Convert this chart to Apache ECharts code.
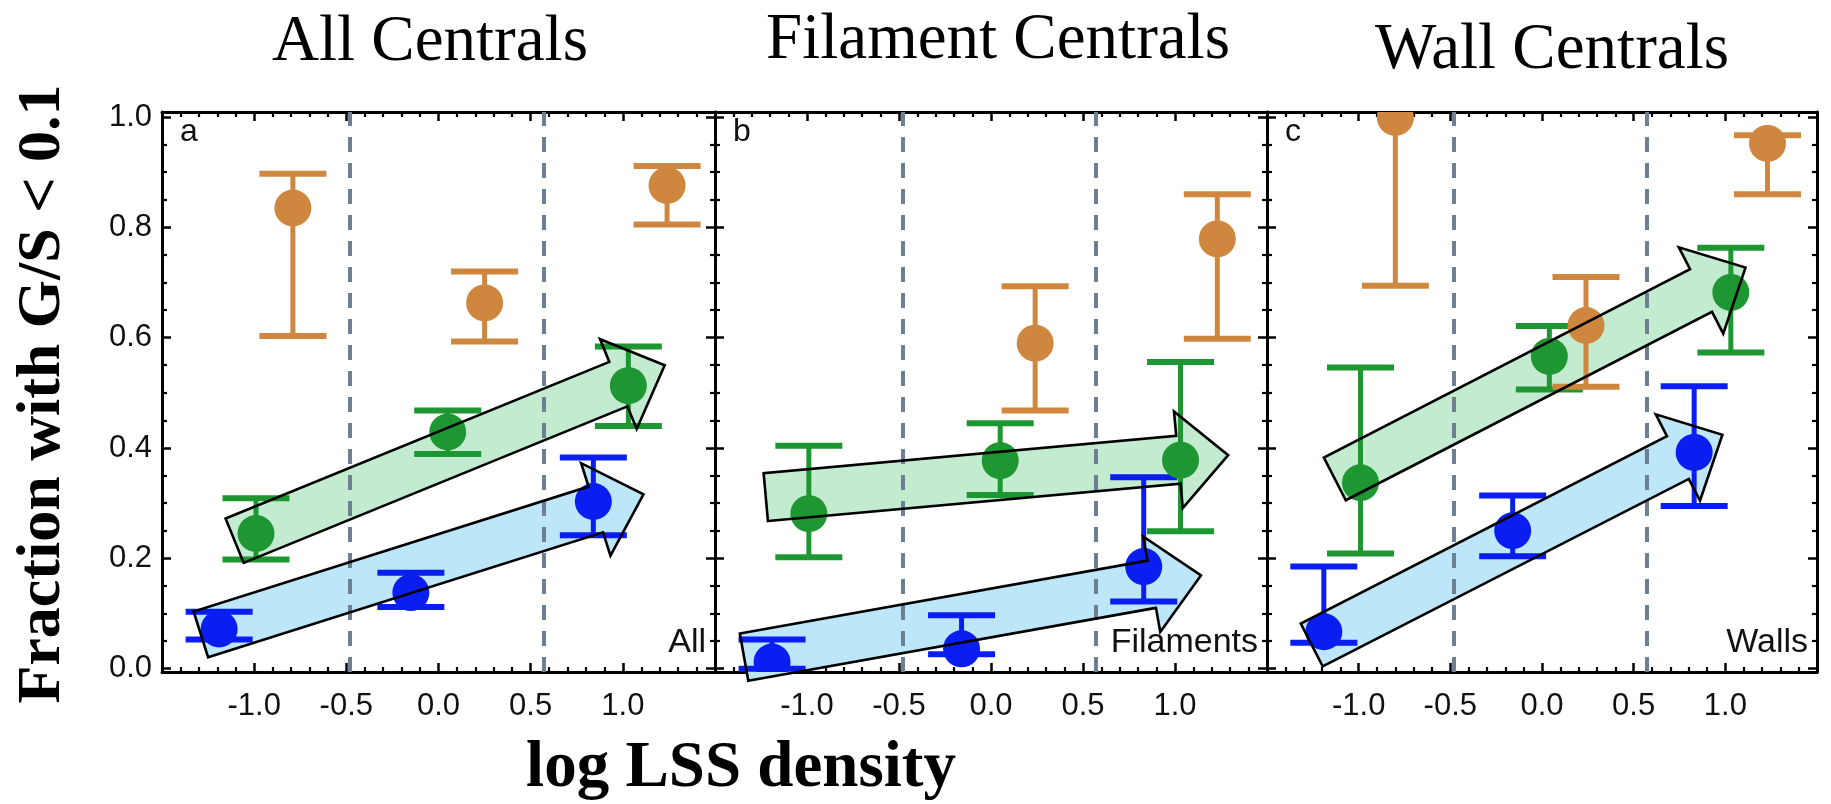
<!DOCTYPE html>
<html>
<head>
<meta charset="utf-8">
<title>Fraction with G/S &lt; 0.1 vs log LSS density</title>
<script src="https://cdn.jsdelivr.net/npm/echarts@6/dist/echarts.min.js"></script>
<style>
  html, body { margin: 0; padding: 0; background: #fff; }
  #chart { width: 1831px; height: 804px; }
</style>
</head>
<body>
<div id="chart"></div>
<script>
// ---- data -------------------------------------------------------------
// panel headings and in-panel tags
const panelTitles = ['All Centrals', 'Filament Centrals', 'Wall Centrals'];
const panelTags = ['a', 'b', 'c'];
const panelSubsets = ['All', 'Filaments', 'Walls'];

// axis ticks
const xTickValues = [-1.0, -0.5, 0.0, 0.5, 1.0];
const yTickValues = [0.0, 0.2, 0.4, 0.6, 0.8, 1.0];
const yMinorTickValues = [0.05, 0.1, 0.15, 0.25, 0.3, 0.35, 0.45, 0.5, 0.55, 0.65, 0.7, 0.75, 0.85, 0.9, 0.95];

// density-bin boundaries (dashed lines)
const binEdges = [-0.48, 0.57];

// points: [log density, fraction, lower bound, upper bound]
const orangeAll = [[-0.79, 0.835, 0.603, 0.897], [0.25, 0.663, 0.593, 0.720], [1.24, 0.876, 0.805, 0.911]];
const greenAll  = [[-0.99, 0.245, 0.198, 0.309], [0.05, 0.429, 0.389, 0.468], [1.03, 0.513, 0.440, 0.584]];
const blueAll   = [[-1.19, 0.072, 0.053, 0.103], [-0.15, 0.138, 0.112, 0.174], [0.84, 0.303, 0.242, 0.383]];

const orangeFil = [[0.24, 0.590, 0.468, 0.693], [1.23, 0.779, 0.598, 0.860]];
const greenFil  = [[-0.99, 0.281, 0.202, 0.404], [0.05, 0.377, 0.315, 0.445], [1.03, 0.378, 0.249, 0.556]];
const blueFil   = [[-1.19, 0.012, 0.000, 0.053], [-0.16, 0.036, 0.026, 0.097], [0.83, 0.185, 0.122, 0.347]];

const orangeWall = [[-0.80, 0.999, 0.694, 1.020], [0.24, 0.622, 0.511, 0.710], [1.23, 0.952, 0.860, 0.967]];
const greenWall  = [[-0.99, 0.337, 0.209, 0.546], [0.04, 0.566, 0.506, 0.621], [1.03, 0.682, 0.573, 0.763]];
const blueWall   = [[-1.19, 0.067, 0.047, 0.185], [-0.16, 0.250, 0.204, 0.314], [0.83, 0.392, 0.295, 0.512]];

// trend arrows: [tail x, tail y, tip x, tip y]
const greenArrows = [[-1.106, 0.232, 1.227, 0.550], [-1.224, 0.311, 1.289, 0.387], [-1.130, 0.344, 1.110, 0.727]];
const blueArrows  = [[-1.289, 0.062, 1.112, 0.316], [-1.342, 0.021, 1.141, 0.169], [-1.256, 0.043, 0.984, 0.424]];

const panels = [
  { orange: orangeAll,  green: greenAll,  blue: blueAll },
  { orange: orangeFil,  green: greenFil,  blue: blueFil },
  { orange: orangeWall, green: greenWall, blue: blueWall }
];

// ---- styling ------------------------------------------------------------
const COLORS = { orange: '#cf873f', green: '#1e9632', blue: '#0a1ef2' };
const ARROW_FILL = { green: '#c3ebcf', blue: '#bde6f8' };
const gridLefts = [162, 715, 1267];
const gridWidths = [553, 552, 550];
const GRID_TOP = 112, GRID_HEIGHT = 560;
const Y_MIN = -0.006, Y_MAX = 1.009;
const SANS = '"Liberation Sans", Arial, Helvetica, sans-serif';
const SERIF = '"Liberation Serif", "Times New Roman", serif';
const TICK_FONT = 31;

const SHAFT_W = 48, HEAD_W = 97, HEAD_L = 50;
const CAP_W = 67, CAP_T = 6, STEM_W = 5;
const MARK_R = 18.5;

const chart = echarts.init(document.getElementById('chart'), null, { renderer: 'canvas' });

const grids = [], xAxes = [], yAxes = [], series = [];

function xAxis(i, pos, labels) {
  return {
    type: 'value', gridIndex: i, position: pos,
    min: -1.5, max: 1.5, interval: 0.5,
    axisLine: { show: true, onZero: false, lineStyle: { color: '#000', width: 3 } },
    axisTick: { show: true, inside: true, length: 9, lineStyle: { color: '#000', width: 2.5 } },
    minorTick: { show: true, splitNumber: 5, length: 5, lineStyle: { color: '#000', width: 2.2 } },
    axisLabel: {
      show: labels, margin: 19, fontSize: TICK_FONT, fontFamily: SANS, color: '#111',
      showMinLabel: false, showMaxLabel: false,
      formatter: v => (xTickValues.some(t => Math.abs(t - v) < 1e-9) ? v.toFixed(1) : '')
    },
    splitLine: { show: false }, minorSplitLine: { show: false }
  };
}

function yAxis(i, pos, values, len, withLine, labels) {
  return {
    type: 'value', gridIndex: i, position: pos, min: Y_MIN, max: Y_MAX,
    axisLine: { show: withLine, onZero: false, lineStyle: { color: '#000', width: 3 } },
    axisTick: { show: true, inside: true, length: len, customValues: values,
                lineStyle: { color: '#000', width: len > 6 ? 2.5 : 2.2 } },
    axisLabel: labels
      ? { show: true, customValues: yTickValues, margin: 10, fontSize: TICK_FONT, fontFamily: SANS, color: '#111',
          formatter: v => v.toFixed(1) }
      : { show: false },
    splitLine: { show: false }
  };
}

function arrowPoints(api, a) {
  const p0 = api.coord([a[0], a[1]]);
  const p1 = api.coord([a[2], a[3]]);
  const dx = p1[0] - p0[0], dy = p1[1] - p0[1];
  const L = Math.sqrt(dx * dx + dy * dy);
  const ux = dx / L, uy = dy / L, nx = -uy, ny = ux;
  const bx = p1[0] - ux * HEAD_L, by = p1[1] - uy * HEAD_L;
  const s = SHAFT_W / 2, h = HEAD_W / 2;
  return [
    [p0[0] + nx * s, p0[1] + ny * s],
    [bx + nx * s, by + ny * s],
    [bx + nx * h, by + ny * h],
    [p1[0], p1[1]],
    [bx - nx * h, by - ny * h],
    [bx - nx * s, by - ny * s],
    [p0[0] - nx * s, p0[1] - ny * s]
  ];
}

function arrowSeries(i, arrow, fill, outline) {
  return {
    type: 'custom', xAxisIndex: 2 * i, yAxisIndex: 4 * i, clip: false,
    z: outline ? 6 : 1, silent: true,
    data: [arrow],
    renderItem: (params, api) => {
      const a = [api.value(0), api.value(1), api.value(2), api.value(3)];
      return {
        type: 'polygon',
        shape: { points: arrowPoints(api, a) },
        style: outline
          ? { fill: 'none', stroke: '#000', lineWidth: 2.6, lineJoin: 'miter' }
          : { fill: fill, stroke: 'none' }
      };
    }
  };
}

function errorSeries(i, data, color, z) {
  return {
    type: 'custom', xAxisIndex: 2 * i, yAxisIndex: 4 * i, clip: true, z: z, silent: true,
    data: data,
    renderItem: (params, api) => {
      const top = api.coord([api.value(0), api.value(3)]);
      const bot = api.coord([api.value(0), api.value(2)]);
      const st = { stroke: color, lineWidth: STEM_W };
      const cp = { stroke: color, lineWidth: CAP_T };
      return {
        type: 'group',
        children: [
          { type: 'line', shape: { x1: top[0], y1: top[1], x2: bot[0], y2: bot[1] }, style: st },
          { type: 'line', shape: { x1: top[0] - CAP_W / 2, y1: top[1], x2: top[0] + CAP_W / 2, y2: top[1] }, style: cp },
          { type: 'line', shape: { x1: bot[0] - CAP_W / 2, y1: bot[1], x2: bot[0] + CAP_W / 2, y2: bot[1] }, style: cp }
        ]
      };
    }
  };
}

// filled circles, clipped to the panel frame
function pointSeries(i, data, color, z) {
  return {
    type: 'custom', xAxisIndex: 2 * i, yAxisIndex: 4 * i, clip: true, z: z, silent: true,
    data: data.map(d => [d[0], d[1]]),
    renderItem: (params, api) => {
      const c = api.coord([api.value(0), api.value(1)]);
      return { type: 'circle', shape: { cx: c[0], cy: c[1], r: MARK_R }, style: { fill: color } };
    }
  };
}

panels.forEach((p, i) => {
  grids.push({ left: gridLefts[i], top: GRID_TOP, width: gridWidths[i], height: GRID_HEIGHT, show: false });
  xAxes.push(xAxis(i, 'bottom', true), xAxis(i, 'top', false));
  yAxes.push(
    yAxis(i, 'left', yTickValues, 9, true, i === 0),
    yAxis(i, 'left', yMinorTickValues, 5, false, false),
    yAxis(i, 'right', yTickValues, 9, true, false),
    yAxis(i, 'right', yMinorTickValues, 5, false, false)
  );

  series.push(arrowSeries(i, greenArrows[i], ARROW_FILL.green, false));
  series.push(arrowSeries(i, blueArrows[i], ARROW_FILL.blue, false));

  series.push({
    type: 'line', xAxisIndex: 2 * i, yAxisIndex: 4 * i, data: [], z: 2, silent: true,
    markLine: {
      silent: true, symbol: ['none', 'none'], label: { show: false },
      lineStyle: { color: '#6d8093', width: 4, type: [15, 11] },
      data: binEdges.map(v => ({ xAxis: v }))
    }
  });

  series.push(errorSeries(i, p.blue, COLORS.blue, 3));
  series.push(errorSeries(i, p.green, COLORS.green, 3));
  series.push(errorSeries(i, p.orange, COLORS.orange, 3));
  series.push(pointSeries(i, p.blue, COLORS.blue, 4));
  series.push(pointSeries(i, p.green, COLORS.green, 4));
  series.push(pointSeries(i, p.orange, COLORS.orange, 5));

  series.push(arrowSeries(i, greenArrows[i], null, true));
  series.push(arrowSeries(i, blueArrows[i], null, true));
});

// ---- text ---------------------------------------------------------------
const titleCenters = [[430, 43], [998, 41], [1552, 51]];
const graphics = [];
panelTitles.forEach((t, i) => {
  graphics.push({
    type: 'text', x: titleCenters[i][0], y: titleCenters[i][1], silent: true,
    style: { text: t, font: '65px ' + SERIF, fill: '#000', align: 'center', verticalAlign: 'middle' }
  });
  graphics.push({
    type: 'text', x: gridLefts[i] + 18, y: 132, silent: true,
    style: { text: panelTags[i], font: '32px ' + SANS, fill: '#111', align: 'left', verticalAlign: 'middle' }
  });
  graphics.push({
    type: 'text', x: gridLefts[i] + gridWidths[i] - 9, y: 643, silent: true,
    style: { text: panelSubsets[i], font: '34px ' + SANS, fill: '#111', align: 'right', verticalAlign: 'middle' }
  });
});
graphics.push({
  type: 'text', x: 741, y: 769, silent: true,
  style: { text: 'log LSS density', font: 'bold 65px ' + SERIF, fill: '#000', align: 'center', verticalAlign: 'middle' }
});
graphics.push({
  type: 'text', x: 43, y: 394, rotation: Math.PI / 2, silent: true,
  style: { text: 'Fraction with G/S < 0.1', font: 'bold 62px ' + SERIF, fill: '#000', align: 'center', verticalAlign: 'middle' }
});

chart.setOption({
  animation: false,
  backgroundColor: '#fff',
  grid: grids,
  xAxis: xAxes,
  yAxis: yAxes,
  series: series,
  graphic: graphics
});
</script>
</body>
</html>
